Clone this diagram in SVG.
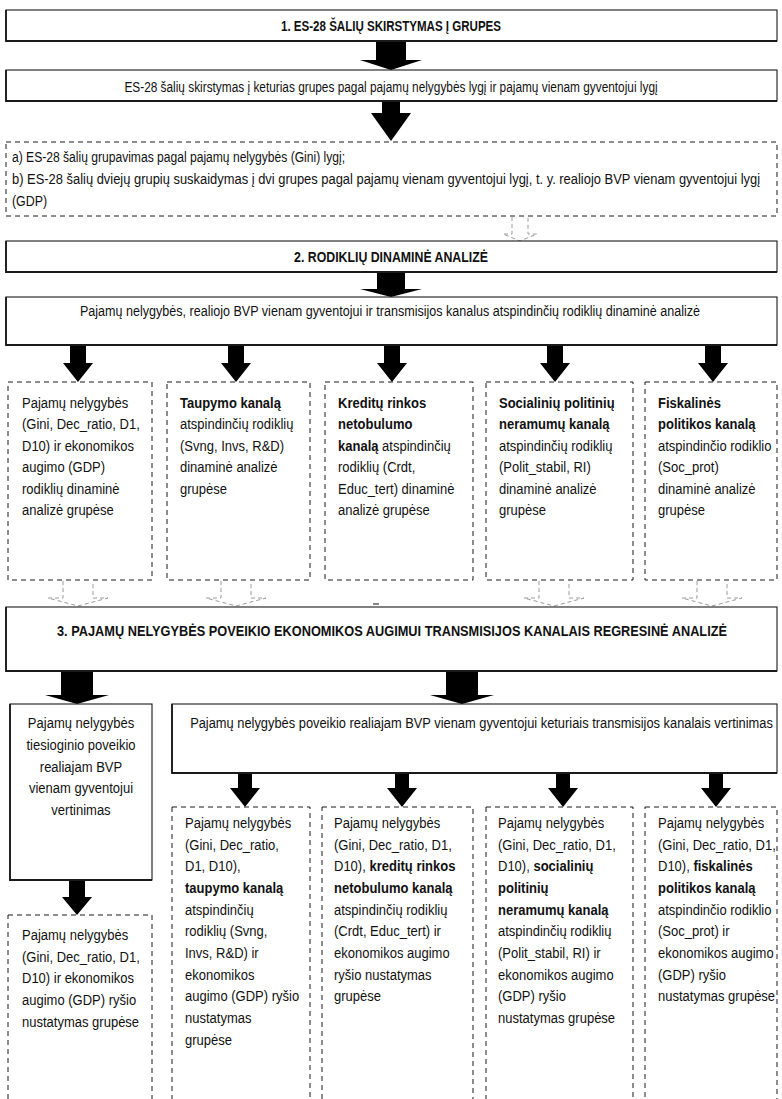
<svg xmlns="http://www.w3.org/2000/svg" width="782" height="1099" viewBox="0 0 782 1099">
  <style>
    .solid { fill: #fff; stroke: #1a1a1a; stroke-width: 1.1; }
    .edge { fill: none; stroke: #1a1a1a; stroke-width: 1.8; }
    .dash { fill: #fff; stroke: #1a1a1a; stroke-width: 1; stroke-dasharray: 5 4; }
    .ghost { fill: none; stroke: #9a9a9a; stroke-width: 1; stroke-dasharray: 4 3; }
    .arrow { fill: #000; }
    text { font-family: 'Liberation Sans', Arial, sans-serif; fill: #111; }
    .h { font-size: 14.5px; font-weight: bold; text-anchor: middle; }
    .m { font-size: 15px; text-anchor: middle; }
    .t { font-size: 15.5px; }
    .c { font-size: 15.5px; text-anchor: middle; }
    .b { font-weight: bold; }
  </style>

  <!-- connectors -->
  <g id="connectors">
    <!-- stage 1 -->
    <polygon class="arrow" points="376,41 406,41 406,60 422,60 391,70 360,60 376,60"/>
    <polygon class="arrow" points="382,101 400,101 400,113 411,113 391,141 371,113 382,113"/>
    <path class="ghost" d="M512,217 V234 H503 L520,241 L537,234 H528 V217"/>
    <!-- stage 2 -->
    <polygon class="arrow" points="377,272 405,272 405,289 422,289 391,297 360,289 377,289"/>
    <polygon class="arrow" points="70,345 86,345 86,363 93,363 78,382 63,363 70,363"/>
    <polygon class="arrow" points="228,345 244,345 244,363 251,363 236,382 221,363 228,363"/>
    <polygon class="arrow" points="384,345 400,345 400,363 407,363 392,382 377,363 384,363"/>
    <polygon class="arrow" points="547,345 563,345 563,363 570,363 555,382 540,363 547,363"/>
    <polygon class="arrow" points="705,345 721,345 721,363 728,363 713,382 698,363 705,363"/>
    <path class="ghost" d="M63,581 V598 H48 L78,606 L108,598 H93 V581"/>
    <path class="ghost" d="M221,581 V598 H206 L236,606 L266,598 H251 V581"/>
    <line x1="373" y1="604" x2="379" y2="604" stroke="#333" stroke-width="1.2"/>
    <path class="ghost" d="M539,581 V598 H524 L554,606 L584,598 H569 V581"/>
    <path class="ghost" d="M697,581 V598 H682 L712,606 L742,598 H727 V581"/>
    <!-- stage 3 -->
    <polygon class="arrow" points="61,671 93,671 93,695 109,695 77,704 45,695 61,695"/>
    <polygon class="arrow" points="446,671 478,671 478,695 494,695 462,704 430,695 446,695"/>
    <polygon class="arrow" points="69,880 85,880 85,897 92,897 77,915 62,897 69,897"/>
    <polygon class="arrow" points="238,773 252,773 252,788 260,788 245,807 230,788 238,788"/>
    <polygon class="arrow" points="395,773 409,773 409,788 417,788 402,807 387,788 395,788"/>
    <polygon class="arrow" points="556,773 570,773 570,788 578,788 563,807 548,788 556,788"/>
    <polygon class="arrow" points="709,773 723,773 723,788 731,788 716,807 701,788 709,788"/>
  </g>

  <!-- stage 1 -->
  <g id="stage1-title">
    <rect class="solid" x="6" y="10" width="771" height="31"/>
    <path class="edge" d="M6,10 V41 H777"/>
    <text class="h" transform="translate(391 31) scale(0.8 1)" x="0" y="0" textLength="275" lengthAdjust="spacingAndGlyphs">1. ES-28 ŠALIŲ SKIRSTYMAS Į GRUPES</text>
  </g>
  <g id="stage1-split">
    <rect class="solid" x="6" y="70" width="771" height="31"/>
    <path class="edge" d="M6,70 V101 H777"/>
    <text class="m" transform="translate(391 92) scale(0.79 1)" x="0" y="0" textLength="675" lengthAdjust="spacingAndGlyphs">ES-28 šalių skirstymas į keturias grupes pagal pajamų nelygybės lygį ir pajamų vienam gyventojui lygį</text>
  </g>
  <g id="stage1-steps">
    <rect class="dash" x="6" y="142" width="771" height="74"/>
    <text class="t" transform="translate(12 162) scale(0.78 1)" x="0" y="0" textLength="427" lengthAdjust="spacingAndGlyphs">a) ES-28 šalių grupavimas pagal pajamų nelygybės (Gini) lygį;</text>
    <text class="t" transform="translate(12 184) scale(0.833 1)" x="0" y="0" textLength="898" lengthAdjust="spacingAndGlyphs">b) ES-28 šalių dviejų grupių suskaidymas į dvi grupes pagal pajamų vienam gyventojui lygį, t. y. realiojo BVP vienam gyventojui lygį</text>
    <text class="t" transform="translate(12 206) scale(0.8 1)" x="0" y="0">(GDP)</text>
  </g>

  <!-- stage 2 -->
  <g id="stage2-title">
    <rect class="solid" x="6" y="241" width="771" height="31"/>
    <path class="edge" d="M6,241 V272 H777"/>
    <text class="h" transform="translate(391 262) scale(0.85 1)" x="0" y="0" textLength="228" lengthAdjust="spacingAndGlyphs">2. RODIKLIŲ DINAMINĖ ANALIZĖ</text>
  </g>
  <g id="stage2-scope">
    <rect class="solid" x="6" y="297" width="771" height="48"/>
    <path class="edge" d="M6,297 V345 H777"/>
    <text class="m" transform="translate(390 316) scale(0.838 1)" x="0" y="0" textLength="740" lengthAdjust="spacingAndGlyphs">Pajamų nelygybės, realiojo BVP vienam gyventojui ir transmisijos kanalus atspindinčių rodiklių dinaminė analizė</text>
  </g>
  <g id="dyn-inequality">
    <rect class="dash" x="8" y="382" width="144" height="198"/>
    <g transform="translate(22 0) scale(0.84 1)">
      <text class="t" x="0" y="408">Pajamų nelygybės</text>
      <text class="t" x="0" y="429.5">(Gini, Dec_ratio, D1,</text>
      <text class="t" x="0" y="451">D10) ir ekonomikos</text>
      <text class="t" x="0" y="472.5">augimo (GDP)</text>
      <text class="t" x="0" y="494">rodiklių dinaminė</text>
      <text class="t" x="0" y="515.5">analizė grupėse</text>
    </g>
  </g>
  <g id="dyn-savings">
    <rect class="dash" x="167" y="382" width="143" height="198"/>
    <g transform="translate(180 0) scale(0.84 1)">
      <text class="t b" x="0" y="408">Taupymo kanalą</text>
      <text class="t" x="0" y="429.5">atspindinčių rodiklių</text>
      <text class="t" x="0" y="451">(Svng, Invs, R&amp;D)</text>
      <text class="t" x="0" y="472.5">dinaminė analizė</text>
      <text class="t" x="0" y="494">grupėse</text>
    </g>
  </g>
  <g id="dyn-credit">
    <rect class="dash" x="325" y="382" width="148" height="198"/>
    <g transform="translate(338 0) scale(0.84 1)">
      <text class="t b" x="0" y="408">Kreditų rinkos</text>
      <text class="t b" x="0" y="429.5">netobulumo</text>
      <text class="t" x="0" y="451"><tspan class="b">kanalą</tspan> atspindinčių</text>
      <text class="t" x="0" y="472.5">rodiklių (Crdt,</text>
      <text class="t" x="0" y="494">Educ_tert) dinaminė</text>
      <text class="t" x="0" y="515.5">analizė grupėse</text>
    </g>
  </g>
  <g id="dyn-social">
    <rect class="dash" x="486" y="382" width="147" height="198"/>
    <g transform="translate(499 0) scale(0.84 1)">
      <text class="t b" x="0" y="408">Socialinių politinių</text>
      <text class="t b" x="0" y="429.5">neramumų kanalą</text>
      <text class="t" x="0" y="451">atspindinčių rodiklių</text>
      <text class="t" x="0" y="472.5">(Polit_stabil, RI)</text>
      <text class="t" x="0" y="494">dinaminė analizė</text>
      <text class="t" x="0" y="515.5">grupėse</text>
    </g>
  </g>
  <g id="dyn-fiscal">
    <rect class="dash" x="645" y="382" width="132" height="198"/>
    <g transform="translate(658 0) scale(0.84 1)">
      <text class="t b" x="0" y="408">Fiskalinės</text>
      <text class="t b" x="0" y="429.5">politikos kanalą</text>
      <text class="t" x="0" y="451">atspindinčio rodiklio</text>
      <text class="t" x="0" y="472.5">(Soc_prot)</text>
      <text class="t" x="0" y="494">dinaminė analizė</text>
      <text class="t" x="0" y="515.5">grupėse</text>
    </g>
  </g>

  <!-- stage 3 -->
  <g id="stage3-title">
    <rect class="solid" x="6" y="607" width="771" height="64"/>
    <path class="edge" d="M6,607 V671 H777"/>
    <text class="h" transform="translate(392 636) scale(0.877 1)" x="0" y="0" textLength="764" lengthAdjust="spacingAndGlyphs">3. PAJAMŲ NELYGYBĖS POVEIKIO EKONOMIKOS AUGIMUI TRANSMISIJOS KANALAIS REGRESINĖ ANALIZĖ</text>
  </g>
  <g id="direct-effect">
    <rect class="solid" x="10" y="704" width="142" height="176"/>
    <path class="edge" d="M10,704 V880 H152"/>
    <g transform="translate(81 0) scale(0.84 1)">
      <text class="c" x="0" y="728">Pajamų nelygybės</text>
      <text class="c" x="0" y="750">tiesioginio poveikio</text>
      <text class="c" x="0" y="772">realiajam BVP</text>
      <text class="c" x="0" y="793">vienam gyventojui</text>
      <text class="c" x="0" y="815">vertinimas</text>
    </g>
  </g>
  <g id="channel-effect">
    <rect class="solid" x="172" y="704" width="605" height="69"/>
    <path class="edge" d="M172,704 V773 H777"/>
    <text class="m" transform="translate(481.5 728) scale(0.857 1)" x="0" y="0" textLength="680" lengthAdjust="spacingAndGlyphs">Pajamų nelygybės poveikio realiajam BVP vienam gyventojui keturiais transmisijos kanalais vertinimas</text>
  </g>
  <g id="reg-direct">
    <rect class="dash" x="8" y="915" width="144" height="200"/>
    <g transform="translate(22 0) scale(0.84 1)">
      <text class="t" x="0" y="940">Pajamų nelygybės</text>
      <text class="t" x="0" y="962">(Gini, Dec_ratio, D1,</text>
      <text class="t" x="0" y="983">D10) ir ekonomikos</text>
      <text class="t" x="0" y="1005">augimo (GDP) ryšio</text>
      <text class="t" x="0" y="1027">nustatymas grupėse</text>
    </g>
  </g>
  <g id="reg-savings">
    <rect class="dash" x="172" y="807" width="138" height="310"/>
    <g transform="translate(185 0) scale(0.84 1)">
      <text class="t" x="0" y="828">Pajamų nelygybės</text>
      <text class="t" x="0" y="850">(Gini, Dec_ratio,</text>
      <text class="t" x="0" y="871.5">D1, D10),</text>
      <text class="t b" x="0" y="893">taupymo kanalą</text>
      <text class="t" x="0" y="915">atspindinčių</text>
      <text class="t" x="0" y="936.5">rodiklių (Svng,</text>
      <text class="t" x="0" y="958">Invs, R&amp;D) ir</text>
      <text class="t" x="0" y="980">ekonomikos</text>
      <text class="t" x="0" y="1001.5">augimo (GDP) ryšio</text>
      <text class="t" x="0" y="1023">nustatymas</text>
      <text class="t" x="0" y="1045">grupėse</text>
    </g>
  </g>
  <g id="reg-credit">
    <rect class="dash" x="322" y="807" width="151" height="310"/>
    <g transform="translate(334 0) scale(0.84 1)">
      <text class="t" x="0" y="828">Pajamų nelygybės</text>
      <text class="t" x="0" y="850">(Gini, Dec_ratio, D1,</text>
      <text class="t" x="0" y="871.5">D10), <tspan class="b">kreditų rinkos</tspan></text>
      <text class="t b" x="0" y="893">netobulumo kanalą</text>
      <text class="t" x="0" y="915">atspindinčių rodiklių</text>
      <text class="t" x="0" y="936.5">(Crdt, Educ_tert) ir</text>
      <text class="t" x="0" y="958">ekonomikos augimo</text>
      <text class="t" x="0" y="980">ryšio nustatymas</text>
      <text class="t" x="0" y="1001.5">grupėse</text>
    </g>
  </g>
  <g id="reg-social">
    <rect class="dash" x="486" y="807" width="147" height="310"/>
    <g transform="translate(498 0) scale(0.84 1)">
      <text class="t" x="0" y="828">Pajamų nelygybės</text>
      <text class="t" x="0" y="850">(Gini, Dec_ratio, D1,</text>
      <text class="t" x="0" y="871.5">D10), <tspan class="b">socialinių</tspan></text>
      <text class="t b" x="0" y="893">politinių</text>
      <text class="t b" x="0" y="915">neramumų kanalą</text>
      <text class="t" x="0" y="936.5">atspindinčių rodiklių</text>
      <text class="t" x="0" y="958">(Polit_stabil, RI) ir</text>
      <text class="t" x="0" y="980">ekonomikos augimo</text>
      <text class="t" x="0" y="1001.5">(GDP) ryšio</text>
      <text class="t" x="0" y="1023">nustatymas grupėse</text>
    </g>
  </g>
  <g id="reg-fiscal">
    <rect class="dash" x="645" y="807" width="132" height="310"/>
    <g transform="translate(658 0) scale(0.84 1)">
      <text class="t" x="0" y="828">Pajamų nelygybės</text>
      <text class="t" x="0" y="850">(Gini, Dec_ratio, D1,</text>
      <text class="t" x="0" y="871.5">D10), <tspan class="b">fiskalinės</tspan></text>
      <text class="t b" x="0" y="893">politikos kanalą</text>
      <text class="t" x="0" y="915">atspindinčio rodiklio</text>
      <text class="t" x="0" y="936.5">(Soc_prot) ir</text>
      <text class="t" x="0" y="958">ekonomikos augimo</text>
      <text class="t" x="0" y="980">(GDP) ryšio</text>
      <text class="t" x="0" y="1001.5">nustatymas grupėse</text>
    </g>
  </g>
</svg>
